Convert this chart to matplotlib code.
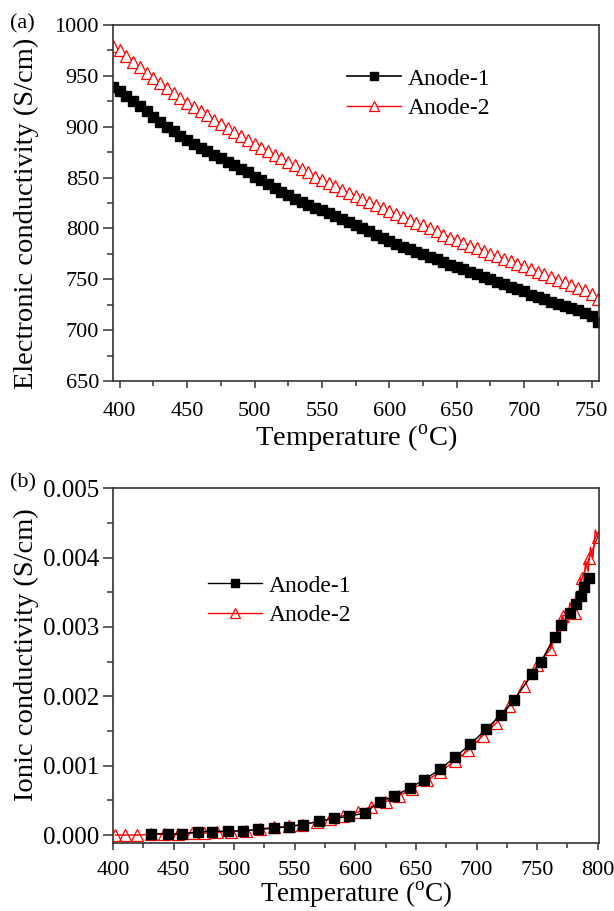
"""Electronic and ionic conductivity of the two anodes vs temperature."""

import matplotlib

matplotlib.use("Agg")
import matplotlib.pyplot as plt
from matplotlib.ticker import MultipleLocator

plt.rcParams["font.family"] = ["Liberation Serif", "DejaVu Serif"]
plt.rcParams["mathtext.fontset"] = "custom"
plt.rcParams["mathtext.rm"] = "Liberation Serif"

# (a) electronic conductivity, S/cm, every 5 degC from 395 to 755
temp_a = list(range(395, 760, 5))
elec_anode1 = [939, 935, 930, 925, 920, 915, 910, 905, 900, 896,
               891, 887, 883, 879, 876, 872, 869, 865, 862, 858,
               855, 851, 848, 844, 840, 836, 833, 829, 826, 823,
               820, 818, 815, 812, 809, 806, 803, 800, 797, 794,
               791, 788, 785, 782, 780, 777, 775, 772, 770, 767,
               764, 762, 760, 757, 755, 752, 750, 747, 745, 742,
               740, 738, 735, 733, 731, 728, 726, 724, 722, 720,
               717, 714, 708]
elec_anode2 = [979, 975, 969, 964, 959, 953, 948, 943, 938, 933,
               928, 923, 919, 915, 911, 907, 903, 899, 895, 891,
               887, 883, 879, 876, 872, 869, 865, 862, 858, 855,
               851, 848, 845, 842, 838, 835, 832, 829, 826, 823,
               820, 817, 814, 811, 808, 805, 803, 800, 797, 794,
               791, 789, 786, 783, 781, 778, 775, 773, 770, 768,
               765, 763, 760, 757, 755, 752, 749, 747, 744, 741,
               739, 736, 731]

# (b) ionic conductivity, S/cm
temp_b1 = [431, 445, 457, 470, 482, 495, 507, 520, 533, 545,
           557, 570, 582, 595, 608, 620, 632, 645, 657, 670,
           682, 695, 708, 720, 731, 746, 753, 765, 770, 777,
           782, 786, 789, 793]
ionic_anode1 = [0.00002, 0.00002, 0.00001, 0.00005, 0.00005, 0.00006, 0.00006, 0.00008, 0.00010, 0.00012,
                0.00015, 0.00020, 0.00024, 0.00027, 0.00032, 0.00048, 0.00056, 0.00068, 0.00080, 0.00095,
                0.00112, 0.00131, 0.00153, 0.00173, 0.00195, 0.00232, 0.00250, 0.00286, 0.00303, 0.00320,
                0.00333, 0.00345, 0.00358, 0.00370]
temp_b2 = [402, 410, 420, 431, 442, 454, 465, 475, 486, 497,
           510, 521, 533, 545, 556, 568, 579, 590, 602, 613,
           625, 636, 647, 659, 670, 682, 693, 705, 716, 727,
           739, 750, 761, 771, 781, 787, 793, 800]
ionic_anode2 = [0.00000, 0.00000, 0.00000, 0.00001, 0.00001, 0.00002, 0.00003, 0.00003, 0.00004, 0.00005,
                0.00006, 0.00009, 0.00011, 0.00013, 0.00015, 0.00019, 0.00023, 0.00028, 0.00033, 0.00041,
                0.00048, 0.00057, 0.00066, 0.00079, 0.00091, 0.00107, 0.00122, 0.00143, 0.00161, 0.00186,
                0.00215, 0.00245, 0.00268, 0.00316, 0.00320, 0.00370, 0.00400, 0.00430]
# noisy high-temperature end of the Anode-2 trace
tail_temp_b2 = [761, 765, 768, 771, 774, 777, 780, 782, 784, 786, 788, 790, 792, 794, 796, 798, 800]
tail_ionic_anode2 = [0.00268, 0.00290, 0.00280, 0.00316, 0.00300, 0.00335, 0.00320, 0.00350, 0.00335,
                     0.00370, 0.00355, 0.00395, 0.00380, 0.00415, 0.00400, 0.00440, 0.00430]

SPINE = "#333333"
RED = "#ff0000"
XLABEL = r"Temperature ($^{\rm o}$C)"


def _style(ax, xpad, ysize):
    for s in ax.spines.values():
        s.set_color(SPINE)
        s.set_linewidth(1.2)
    ax.tick_params(which="both", direction="out", color=SPINE, width=1.1, labelsize=16)
    ax.tick_params(axis="y", which="major", length=7, labelsize=ysize, pad=3)
    ax.tick_params(axis="y", which="minor", length=4)
    ax.tick_params(axis="x", which="major", length=5, pad=xpad)
    ax.tick_params(axis="x", which="minor", length=3.5)


def _legend(ax, anchor):
    ax.legend(loc="upper left", bbox_to_anchor=anchor, frameon=False,
              fontsize=17, borderpad=0, borderaxespad=0, handlelength=2.3,
              handletextpad=0.3, labelspacing=0.35, markerscale=0.85)


fig = plt.figure(figsize=(6.14, 9.11), dpi=100)

# ---- (a)
ax = fig.add_axes([0.184, 0.5818, 0.7915, 0.3908])
ax.plot(temp_a, elec_anode1, color="black", lw=1.2, marker="s", ms=7,
        mfc="black", mec="black", label="Anode-1")
ax.plot(temp_a, elec_anode2, color=RED, lw=1.0, marker="^", ms=8.5,
        mfc="white", mec=RED, mew=0.9, label="Anode-2")
ax.set_xlim(395, 755.5)
ax.set_ylim(650, 1000)
ax.xaxis.set_major_locator(MultipleLocator(50))
ax.xaxis.set_minor_locator(MultipleLocator(25))
ax.yaxis.set_major_locator(MultipleLocator(50))
ax.yaxis.set_minor_locator(MultipleLocator(25))
_style(ax, xpad=10, ysize=16)
ax.set_xlabel(XLABEL, fontsize=20.5)
ax.xaxis.set_label_coords(0.5, -0.118)
ax.xaxis.label.set_va("top")
ax.set_ylabel("Electronic conductivity (S/cm)", fontsize=20.5)
ax.yaxis.set_label_coords(-0.152, 0.47)
_legend(ax, (0.4807, 0.879))
fig.text(0.016, 0.974, "(a)", fontsize=16, va="center", ha="left")

# ---- (b)
ax = fig.add_axes([0.184, 0.0750, 0.7915, 0.389])
ax.plot(temp_b1, ionic_anode1, color="black", lw=1.0, marker="s", ms=6.5,
        mfc="black", mec="black", label="Anode-1", zorder=3)
ax.plot(temp_b2, ionic_anode2, color=RED, lw=1.0, marker="^", ms=8,
        mfc="none", mec=RED, mew=0.9, label="Anode-2", zorder=2)
ax.plot(tail_temp_b2, tail_ionic_anode2, color=RED, lw=1.0, zorder=2)
ax.set_xlim(400, 801)
ax.set_ylim(-0.00011, 0.005)
ax.xaxis.set_major_locator(MultipleLocator(50))
ax.xaxis.set_minor_locator(MultipleLocator(25))
ax.yaxis.set_major_locator(MultipleLocator(0.001))
ax.yaxis.set_minor_locator(MultipleLocator(0.0005))
ax.yaxis.set_major_formatter(plt.FormatStrFormatter("%.3f"))
_style(ax, xpad=8, ysize=18)
ax.set_xlabel(XLABEL, fontsize=19.5)
ax.xaxis.set_label_coords(0.5, -0.103)
ax.xaxis.label.set_va("top")
ax.set_ylabel("Ionic conductivity (S/cm)", fontsize=20.5)
ax.yaxis.set_label_coords(-0.152, 0.53)
_legend(ax, (0.1947, 0.755))
fig.text(0.016, 0.470, "(b)", fontsize=16, va="center", ha="left")

fig.savefig("out.png", dpi=100, facecolor="white")
plt.close(fig)
